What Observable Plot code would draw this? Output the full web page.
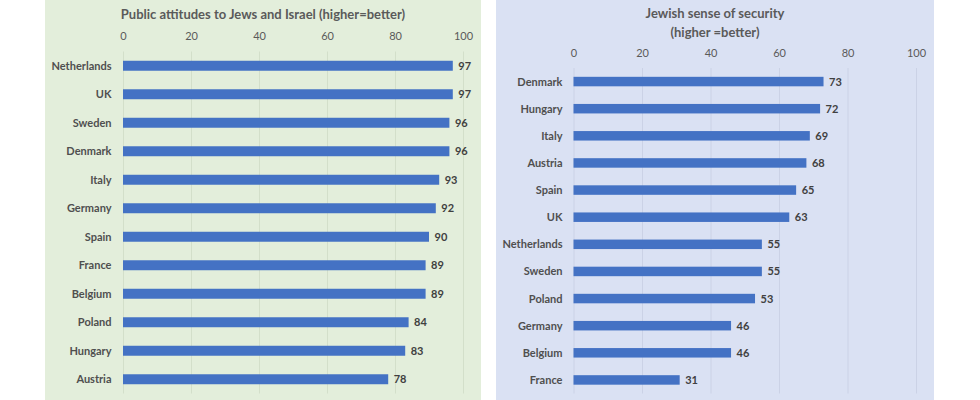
<!DOCTYPE html>
<html>
<head>
<meta charset="utf-8">
<script src="https://cdn.jsdelivr.net/npm/d3@7"></script>
<script src="https://cdn.jsdelivr.net/npm/@observablehq/plot@0.6"></script>
<style>
  html, body { margin: 0; padding: 0; background: #ffffff; }
  #wrap { position: relative; width: 980px; height: 400px; overflow: hidden; font-family: Lato, "Open Sans", sans-serif; }
  .panel { position: absolute; top: 0; height: 400px; }
  .title { position: absolute; left: 0; right: 0; text-align: center; font-weight: bold; font-size: 13px; color: #5a5a5a; line-height: 19px; }
  .panel svg { position: absolute; left: 0; top: 0; }
</style>
</head>
<body>
<div id="wrap">
  <div class="panel" id="left" style="left:45px;width:436px;background:#e3eedb;">
    <div class="title" style="top:5px;">Public attitudes to Jews and Israel (higher=better)</div>
  </div>
  <div class="panel" id="right" style="left:496px;width:438px;background:#dae1f3;">
    <div class="title" style="top:4px;">Jewish sense of security<br>(higher =better)</div>
  </div>
</div>
<script>
const leftCountries = ["Netherlands", "UK", "Sweden", "Denmark", "Italy", "Germany", "Spain", "France", "Belgium", "Poland", "Hungary", "Austria"];
const leftValues = [97, 97, 96, 96, 93, 92, 90, 89, 89, 84, 83, 78];
const rightCountries = ["Denmark", "Hungary", "Italy", "Austria", "Spain", "UK", "Netherlands", "Sweden", "Poland", "Germany", "Belgium", "France"];
const rightValues = [73, 72, 69, 68, 65, 63, 55, 55, 53, 46, 46, 31];
const xTicks = [0, 20, 40, 60, 80, 100];

function makeChart(countries, values, opts) {
  const data = countries.map((c, i) => ({c, v: values[i]}));
  return Plot.plot({
    width: opts.width,
    height: 400,
    marginLeft: opts.marginLeft,
    marginRight: opts.marginRight,
    marginTop: opts.marginTop,
    marginBottom: opts.marginBottom,
    style: {background: "transparent", fontFamily: "Lato, 'Open Sans', sans-serif", overflow: "visible"},
    x: {domain: [0, 100]},
    y: {domain: countries, paddingInner: 0.65, paddingOuter: 0.325, align: 0.5, round: false},
    marks: [
      Plot.ruleX(xTicks, {stroke: opts.grid, strokeWidth: 1}),
      Plot.axisX({anchor: "top", ticks: xTicks, tickSize: 0, tickPadding: 12, fontSize: 11, fill: "#5a5a5a", label: null}),
      Plot.axisY({tickSize: 0, tickPadding: opts.yPad, fontSize: 11, fontWeight: "bold", fill: "#4f4f4f", label: null}),
      Plot.barX(data, {x: "v", y: "c", fill: "#4472c4"}),
      Plot.text(data, {x: "v", y: "c", text: d => String(d.v), textAnchor: "start", dx: 5, fontSize: 11, fontWeight: "bold", fill: "#404040"})
    ]
  });
}

document.getElementById("left").appendChild(makeChart(leftCountries, leftValues, {
  width: 436, marginLeft: 78, marginRight: 18, marginTop: 51.5, marginBottom: 6.5, yPad: 12, grid: "#d3dfca"
}));
document.getElementById("right").appendChild(makeChart(rightCountries, rightValues, {
  width: 438, marginLeft: 77.5, marginRight: 18, marginTop: 68, marginBottom: 6.5, yPad: 11.5, grid: "#cbd2e6"
}));
</script>
</body>
</html>
